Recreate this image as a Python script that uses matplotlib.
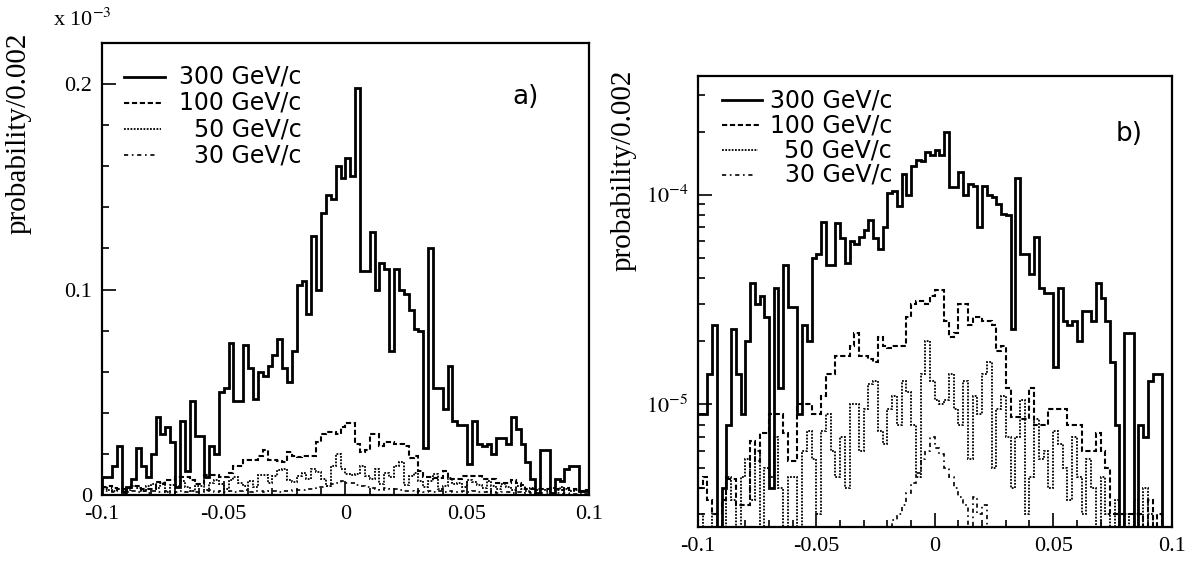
import matplotlib
matplotlib.use('Agg')
import matplotlib.pyplot as plt
import numpy as np
from matplotlib.ticker import MultipleLocator, FixedLocator, LogLocator, NullFormatter

# 100 bins de 0.002 entre -0.1 y 0.1
bordes = np.linspace(-0.1, 0.1, 101)

# probabilidad por bin, en unidades de 1e-5
p300 = [0.9, 0.9, 1.4, 2.4, 0.15, 0.4, 0.8, 2.3, 1.4, 0.9,
        2.0, 3.8, 3.0, 3.3, 2.6, 0.4, 3.6, 1.2, 4.6, 2.9,
        2.9, 0.9, 2.4, 2.0, 5.0, 5.2, 7.4, 4.6, 4.6, 7.3,
        6.2, 4.7, 6.0, 5.8, 6.3, 6.8, 7.6, 6.2, 5.5, 7.0,
        10.2, 10.4, 8.8, 12.6, 10.0, 13.7, 14.6, 14.4, 16.0, 15.4,
        16.4, 15.5, 19.8, 10.9, 10.9, 12.8, 10.0, 11.3, 11.0, 7.0,
        11.0, 10.0, 9.8, 9.0, 8.1, 8.0, 2.3, 12.0, 5.2, 5.2,
        4.2, 6.3, 3.6, 3.4, 3.4, 1.5, 3.6, 2.5, 2.4, 2.5,
        2.0, 2.8, 2.8, 2.5, 3.8, 3.2, 2.5, 1.6, 0.8, 0.1,
        2.2, 2.2, 0.1, 0.8, 0.7, 1.3, 1.4, 1.4, 0.2, 0.2]
p100 = [0.40, 0.45, 0.35, 0.30, 0.30, 0.35, 0.44, 0.44, 0.33, 0.33,
        0.33, 0.67, 0.54, 0.73, 0.73, 0.90, 0.90, 0.90, 0.73, 0.54,
        0.54, 1.00, 1.00, 1.00, 0.90, 0.90, 1.10, 1.40, 1.40, 1.70,
        1.70, 1.70, 1.90, 2.20, 1.70, 1.70, 1.65, 1.60, 2.10, 1.90,
        1.85, 1.90, 1.90, 1.90, 2.60, 3.00, 3.10, 3.10, 3.00, 3.30,
        3.50, 3.50, 2.50, 2.10, 2.20, 3.00, 3.00, 2.40, 2.60, 2.60,
        2.50, 2.50, 2.40, 1.80, 1.90, 1.20, 0.87, 0.87, 0.85, 0.85,
        1.20, 0.80, 0.80, 0.80, 0.95, 0.95, 0.95, 0.95, 0.80, 0.80,
        0.80, 0.60, 0.60, 0.60, 0.73, 0.60, 0.50, 0.30, 0.30, 0.30,
        0.30, 0.30, 0.30, 0.30, 0.25, 0.35, 0.25, 0.30, 0.20, 0.25]
p50 = [0.30, 0.25, 0.20, 0.30, 0.15, 0.25, 0.45, 0.35, 0.20, 0.45,
       0.55, 0.35, 0.60, 0.15, 0.50, 0.45, 0.70, 0.40, 0.20, 0.45,
       0.45, 0.25, 0.60, 0.75, 0.55, 0.30, 0.75, 0.90, 0.60, 0.45,
       0.70, 0.40, 1.00, 1.00, 0.60, 0.95, 1.25, 1.30, 0.75, 0.65,
       0.95, 1.10, 0.80, 1.30, 1.15, 0.80, 0.45, 1.40, 2.00, 1.30,
       1.05, 1.00, 1.05, 1.40, 0.95, 0.80, 1.30, 0.55, 1.10, 0.90,
       1.40, 1.60, 0.50, 0.95, 1.10, 0.70, 0.40, 0.70, 1.05, 0.30,
       0.45, 0.85, 0.55, 0.60, 0.40, 0.75, 0.65, 0.50, 0.35, 0.70,
       0.45, 0.30, 0.55, 0.40, 0.25, 0.45, 0.30, 0.20, 0.35, 0.25,
       0.30, 0.20, 0.35, 0.25, 0.40, 0.30, 0.20, 0.25, 0.15, 0.20]
p30 = [0.20, 0.22, 0.15, 0.25, 0.20, 0.18, 0.22, 0.15, 0.20, 0.12,
       0.22, 0.18, 0.15, 0.20, 0.12, 0.18, 0.20, 0.15, 0.22, 0.18,
       0.15, 0.20, 0.25, 0.18, 0.20, 0.15, 0.22, 0.18, 0.20, 0.25,
       0.18, 0.22, 0.20, 0.15, 0.20, 0.22, 0.18, 0.20, 0.22, 0.25,
       0.24, 0.28, 0.30, 0.33, 0.38, 0.42, 0.47, 0.55, 0.60, 0.70,
       0.62, 0.58, 0.50, 0.45, 0.40, 0.36, 0.33, 0.24, 0.36, 0.30,
       0.33, 0.25, 0.22, 0.20, 0.18, 0.20, 0.16, 0.20, 0.18, 0.22,
       0.15, 0.20, 0.18, 0.15, 0.20, 0.16, 0.22, 0.18, 0.14, 0.20,
       0.16, 0.12, 0.18, 0.15, 0.12, 0.16, 0.10, 0.14, 0.12, 0.08,
       0.12, 0.10, 0.08, 0.12, 0.06, 0.10, 0.08, 0.06, 0.10, 0.05]

momentos = ['300 GeV/c', '100 GeV/c', '50 GeV/c', '30 GeV/c']
series = [p300, p100, p50, p30]
estilos = [('-', 2.0), ((0, (2.5, 1.3)), 1.5), ((0, (1, 0.8)), 1.3), ((0, (2.5, 2.2, 1, 2.2)), 1.2)]
largo_linea = [0.085, 0.080, 0.076, 0.070]

plt.rcParams['font.family'] = 'serif'
plt.rcParams['font.serif'] = ['Liberation Serif', 'DejaVu Serif']
plt.rcParams['mathtext.fontset'] = 'stix'

fig = plt.figure(figsize=(11.87, 5.68), dpi=100)
ax_a = fig.add_axes([0.086, 0.128, 0.410, 0.797])
ax_b = fig.add_axes([0.588, 0.072, 0.399, 0.795])


def leyenda(ax, y0, dy, x0, xtexto, etiqueta, xe, ye):
    for k, (nombre, (ls, lw)) in enumerate(zip(momentos, estilos)):
        y = y0 - k * dy
        ax.plot([x0, x0 + largo_linea[k]], [y, y], color='black', ls=ls, lw=lw,
                transform=ax.transAxes)
        ax.text(xtexto, y, nombre, transform=ax.transAxes, ha='right', va='center',
                family='DejaVu Sans', fontsize=17)
    ax.text(xe, ye, etiqueta, transform=ax.transAxes, ha='center',
            va='center', family='DejaVu Sans', fontsize=19)


def formato(ax):
    for s in ax.spines.values():
        s.set_linewidth(1.6)
    ax.tick_params(which='both', direction='in', top=False, right=False,
                   labelsize=16, width=1.2, pad=7)
    ax.tick_params(which='major', length=10)
    ax.tick_params(which='minor', length=5)
    ax.set_xlim(-0.1, 0.1)
    ax.xaxis.set_major_locator(FixedLocator([-0.1, -0.05, 0, 0.05, 0.1]))
    ax.set_xticklabels(['-0.1', '-0.05', '0', '0.05', '0.1'])
    ax.xaxis.set_minor_locator(MultipleLocator(0.01))


# panel a) escala lineal, en unidades de 1e-3
for vals, (ls, lw) in zip(series, estilos):
    ax_a.stairs(np.array(vals) * 0.01, bordes, color='black', ls=ls, lw=lw)
formato(ax_a)
ax_a.set_ylim(0, 0.22)
ax_a.yaxis.set_major_locator(FixedLocator([0, 0.1, 0.2]))
ax_a.set_yticklabels(['0', '0.1', '0.2'])
ax_a.yaxis.set_minor_locator(MultipleLocator(0.02))
ax_a.set_ylabel('probability/0.002', fontsize=21)
ax_a.yaxis.set_label_coords(-0.145, 0.80)
ax_a.text(-0.1, 1.025, r'x 10$^{-3}$', transform=ax_a.transAxes, fontsize=16,
          ha='left', va='bottom')
leyenda(ax_a, 0.925, 0.058, 0.045, 0.41, 'a)', 0.87, 0.88)

# panel b) escala logaritmica
for vals, (ls, lw) in zip(series, estilos):
    ax_b.stairs(np.array(vals) * 1e-5, bordes, color='black', ls=ls, lw=lw,
                baseline=None)
formato(ax_b)
ax_b.set_yscale('log')
ax_b.set_ylim(2.6e-6, 3.7e-4)
ax_b.yaxis.set_major_locator(FixedLocator([1e-5, 1e-4]))
ax_b.set_yticklabels([r'$10^{-5}$', r'$10^{-4}$'])
ax_b.yaxis.set_minor_locator(LogLocator(base=10, subs=np.arange(2, 10)))
ax_b.yaxis.set_minor_formatter(NullFormatter())
ax_b.set_ylabel('probability/0.002', fontsize=21)
ax_b.yaxis.set_label_coords(-0.13, 0.79)
leyenda(ax_b, 0.945, 0.055, 0.05, 0.41, 'b)', 0.91, 0.87)

fig.savefig('out.png', dpi=100)
